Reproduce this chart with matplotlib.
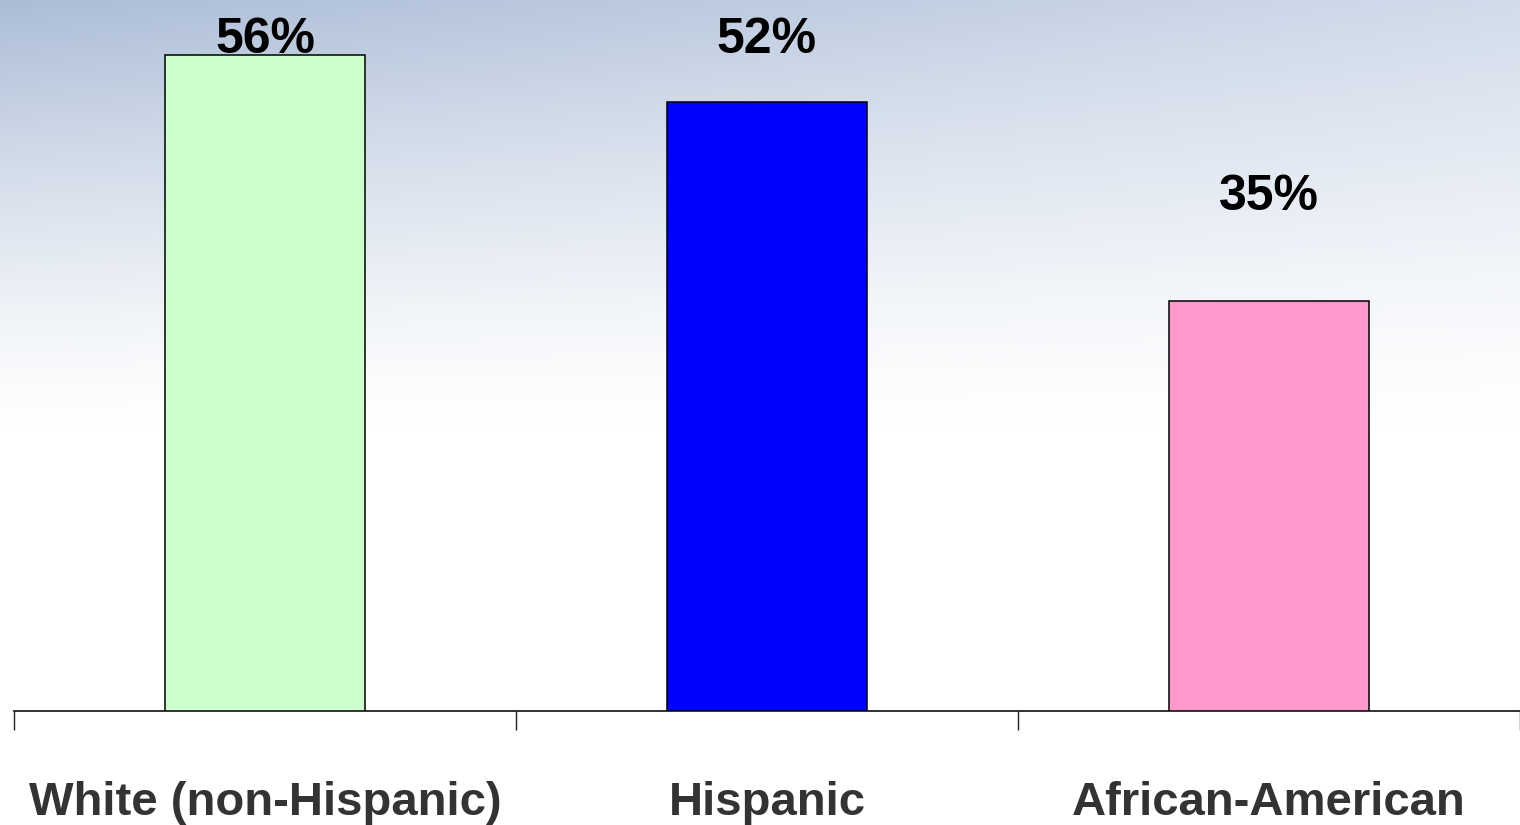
import matplotlib

matplotlib.use("Agg")
import matplotlib.pyplot as plt  # noqa: E402
import numpy as np  # noqa: E402

# Dati del grafico
categories = ["White (non-Hispanic)", "Hispanic", "African-American"]
values = [56, 52, 35]
bar_colors = ["#CCFFCC", "#0000FF", "#FF99CC"]

# Linea di base delle etichette percentuali (in unità dell'asse y)
label_y = [56.2, 56.2, 42.8]

FONT = ["Liberation Sans Narrow", "Liberation Sans", "DejaVu Sans"]

W, H, DPI = 1520, 825, 100
PX_PER_UNIT = 11.71  # pixel verticali per punto percentuale

fig = plt.figure(figsize=(W / DPI, H / DPI), dpi=DPI)

# --- Sfondo: sfumatura azzurra in alto che sfuma nel bianco -------------------
bg = fig.add_axes([0, 0, 1, 1], zorder=0)
yy, xx = np.mgrid[0:H, 0:W]
fade = np.clip(1 - yy / 430.0, 0, 1) ** 1.3
left_col = np.array([0.67, 0.74, 0.84])
right_col = np.array([0.82, 0.86, 0.92])
mix = (xx / W)[..., None]
top_col = left_col * (1 - mix) + right_col * mix
img = 1 - fade[..., None] * (1 - top_col)
bg.imshow(img, aspect="auto", extent=(0, 1, 0, 1), origin="upper")
bg.set_axis_off()

# --- Barre -----------------------------------------------------------------------
ax = fig.add_axes([14 / W, (H - 711) / H, 1 - 14 / W, 711 / H], zorder=1)
ax.patch.set_alpha(0)
x = np.arange(len(categories))
ax.bar(x, values, width=0.4, color=bar_colors, edgecolor="black",
       linewidth=1.1, zorder=3)

for xi, v, ly in zip(x, values, label_y):
    ax.text(xi, ly, f"{v}%", ha="center", va="baseline", fontsize=36,
            fontweight="bold", family=FONT, color="black")

ax.set_xlim(-0.5, -0.5 + (W - 14) / 504)
ax.set_ylim(0, 711 / PX_PER_UNIT)

for side in ("left", "right", "top"):
    ax.spines[side].set_visible(False)
ax.spines["bottom"].set_color("#222222")
ax.spines["bottom"].set_linewidth(1.3)

ax.set_yticks([])
ax.set_xticks(np.arange(-0.5, len(categories), 1.0))
ax.set_xticklabels([])
ax.tick_params(axis="x", direction="out", length=14, width=1.0, color="#222222")

for xi, cat in zip(x, categories):
    ax.text(xi, -104 / PX_PER_UNIT, cat, ha="center", va="baseline", fontsize=34,
            fontweight="bold", family=FONT, color="#333333")

fig.savefig("out.png", dpi=DPI)
